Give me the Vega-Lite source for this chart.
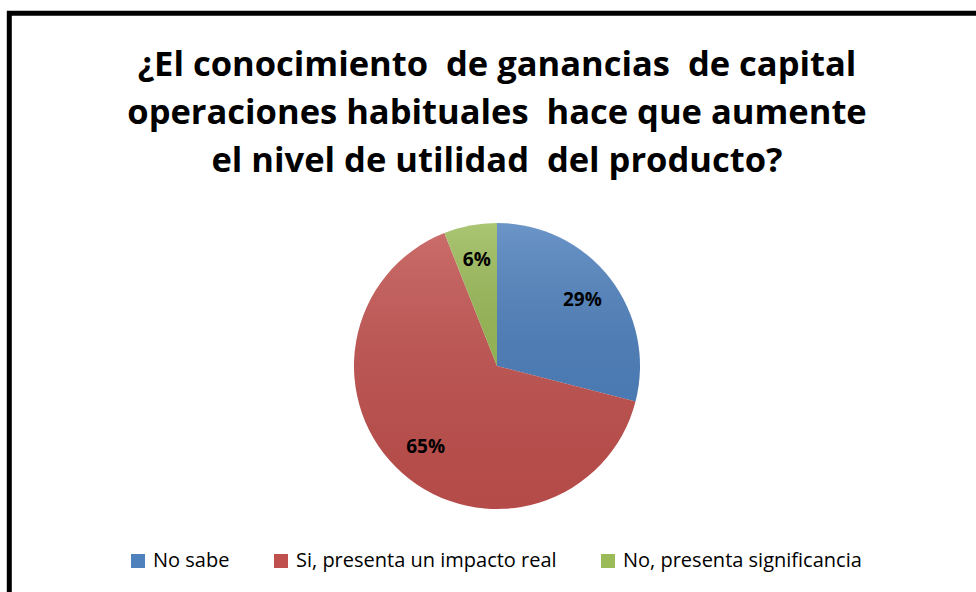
{
  "$schema": "https://vega.github.io/schema/vega-lite/v6.json",
  "autosize": "none",
  "width": 975.4,
  "height": 705.4,
  "padding": {"left": 9.3, "top": 13.3, "right": -8.7, "bottom": -126.7},
  "background": "white",
  "view": {"stroke": "#000000", "strokeWidth": 5, "fill": "white"},
  "title": {
    "text": ["¿El conocimiento \u00a0de ganancias \u00a0de capital", "operaciones habituales \u00a0hace que aumente", "el nivel de utilidad \u00a0del producto?"],
    "font": "Open Sans",
    "fontSize": 34.5,
    "fontWeight": "bold",
    "lineHeight": 48,
    "color": "#000000",
    "anchor": "middle",
    "frame": "group",
    "orient": "top",
    "offset": -166.4
  },
  "data": {
    "values": [
      {"respuesta": "No sabe", "valor": 0.29, "orden": 1},
      {"respuesta": "Si, presenta un impacto real", "valor": 0.65, "orden": 2},
      {"respuesta": "No, presenta significancia", "valor": 0.06, "orden": 3}
    ]
  },
  "encoding": {
    "theta": {"field": "valor", "type": "quantitative", "stack": true},
    "order": {"field": "orden", "type": "quantitative"}
  },
  "layer": [
    {
      "mark": {"type": "arc", "outerRadius": 143, "stroke": null},
      "encoding": {
        "color": {
          "field": "respuesta",
          "type": "nominal",
          "sort": ["No sabe", "Si, presenta un impacto real", "No, presenta significancia"],
          "scale": {
            "domain": ["No sabe", "Si, presenta un impacto real", "No, presenta significancia"],
            "range": ["#4F81BD", "#C0504D", "#9BBB59"]
          },
          "legend": {
            "title": null,
            "orient": "none",
            "direction": "horizontal",
            "legendX": 118.7,
            "legendY": 537.7,
            "padding": 0,
            "symbolType": "square",
            "symbolSize": 196,
            "symbolStrokeWidth": 0,
            "labelFont": "Open Sans",
            "labelFontSize": 20,
            "labelColor": "#000000",
            "labelOffset": 5,
            "columnPadding": 41,
            "labelLimit": 400
          }
        }
      }
    },
    {
      "mark": {
        "type": "arc",
        "outerRadius": 143,
        "stroke": null,
        "fill": {
          "gradient": "linear",
          "x1": 0, "y1": 0, "x2": 0, "y2": 1,
          "stops": [
            {"offset": 0, "color": "rgba(255,255,255,0.16)"},
            {"offset": 1, "color": "rgba(0,0,0,0.06)"}
          ]
        }
      },
      "encoding": {}
    },
    {
      "mark": {"type": "text", "radius": 108, "font": "Open Sans", "fontSize": 19, "fontWeight": "bold", "color": "#000000"},
      "encoding": {
        "text": {"field": "valor", "type": "quantitative", "format": ".0%"}
      }
    }
  ]
}
